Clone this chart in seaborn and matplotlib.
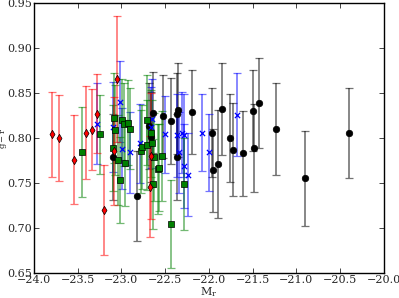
import numpy as np
import pandas as pd
import seaborn as sns
import matplotlib
matplotlib.use('Agg')
import matplotlib.pyplot as plt

# red diamonds
red_x = [-23.79, -23.71, -23.54, -23.40, -23.34, -23.28, -23.20, -23.05, -23.08, -22.66, -22.67]
red_y = [0.804, 0.800, 0.776, 0.806, 0.809, 0.827, 0.720, 0.865, 0.786, 0.780, 0.746]
red_e = [0.047, 0.048, 0.049, 0.052, 0.045, 0.044, 0.050, 0.070, 0.060, 0.070, 0.056]

# blue crosses
blue_x = [-23.28, -23.10, -23.02, -22.99, -22.90, -22.79, -22.65, -22.66, -22.50, -22.37,
          -22.31, -22.28, -22.34, -22.29, -22.24, -22.08, -22.00, -21.68]
blue_y = [0.816, 0.812, 0.840, 0.788, 0.784, 0.794, 0.821, 0.812, 0.804, 0.803,
          0.806, 0.803, 0.784, 0.769, 0.759, 0.806, 0.784, 0.826]
blue_e = [0.045, 0.050, 0.045, 0.045, 0.045, 0.044, 0.044, 0.045, 0.043, 0.046,
          0.045, 0.046, 0.045, 0.047, 0.046, 0.043, 0.043, 0.046]

# black circles
black_x = [-23.10, -22.82, -22.68, -22.64, -22.66, -22.53, -22.43, -22.37, -22.35, -22.37,
           -22.19, -21.97, -21.95, -21.90, -21.85, -21.76, -21.72, -21.61, -21.50, -21.48,
           -21.43, -21.23, -20.90, -20.40]
black_y = [0.779, 0.735, 0.813, 0.828, 0.801, 0.824, 0.819, 0.827, 0.831, 0.779,
           0.829, 0.806, 0.764, 0.771, 0.832, 0.800, 0.787, 0.783, 0.830, 0.789,
           0.839, 0.810, 0.755, 0.806]
black_e = [0.048, 0.050, 0.048, 0.045, 0.050, 0.046, 0.048, 0.045, 0.052, 0.048,
           0.047, 0.049, 0.046, 0.060, 0.051, 0.049, 0.052, 0.047, 0.045, 0.049,
           0.050, 0.051, 0.053, 0.050]

# green squares
green_x = [-23.455, -23.24, -23.09, -23.07, -23.10, -23.04, -23.02, -22.99, -22.97, -22.93,
           -22.90, -22.96, -22.78, -22.76, -22.71, -22.66, -22.71, -22.65, -22.64, -22.58,
           -22.63, -22.54, -22.57, -22.43, -22.28]
green_y = [0.784, 0.804, 0.822, 0.809, 0.789, 0.776, 0.753, 0.820, 0.815, 0.817,
           0.810, 0.772, 0.785, 0.790, 0.820, 0.805, 0.792, 0.794, 0.749, 0.766,
           0.779, 0.780, 0.767, 0.704, 0.749]
green_e = [0.050, 0.044, 0.050, 0.050, 0.048, 0.050, 0.048, 0.045, 0.046, 0.047,
           0.045, 0.048, 0.046, 0.047, 0.050, 0.048, 0.050, 0.048, 0.050, 0.050,
           0.049, 0.050, 0.048, 0.049, 0.051]

sns.set_style('ticks')
plt.rcParams['font.family'] = ['DejaVu Serif']
plt.rcParams['mathtext.fontset'] = 'dejavuserif'

fig, ax = plt.subplots(figsize=(3.99, 2.98), dpi=100)
fig.subplots_adjust(left=0.085, right=0.962, bottom=0.084, top=0.99)

groups = [
    (black_x, black_y, black_e, 'black', 'o', 'black', 22),
    (blue_x, blue_y, blue_e, 'blue', 'x', 'blue', 14),
    (green_x, green_y, green_e, 'green', 's', 'black', 20),
    (red_x, red_y, red_e, 'red', 'd', 'black', 18),
]

for gx, gy, ge, col, mk, ec, sz in groups:
    ax.errorbar(gx, gy, yerr=ge, fmt='none', ecolor=col, alpha=0.55,
                elinewidth=1.2, capsize=2.8, capthick=0.9)
    df = pd.DataFrame({'x': gx, 'y': gy})
    if mk == 'x':
        sns.scatterplot(data=df, x='x', y='y', marker=mk, color=col, s=sz,
                        linewidth=0.9, ax=ax, zorder=3)
    else:
        sns.scatterplot(data=df, x='x', y='y', marker=mk, color=col, s=sz,
                        edgecolor=ec, linewidth=0.5, ax=ax, zorder=3)

ax.set_xlim(-24, -20)
ax.set_ylim(0.65, 0.95)
ax.set_xticks(np.arange(-24, -19.9, 0.5))
ax.set_yticks(np.arange(0.65, 0.951, 0.05))
ax.set_xticklabels(['\u2212%.1f' % abs(v) for v in np.arange(-24, -19.9, 0.5)])
ax.set_yticklabels(['%.2f' % v for v in np.arange(0.65, 0.951, 0.05)])
ax.tick_params(direction='in', top=True, right=True, labelsize=8, length=3.5,
               width=0.6, pad=1.5)
for sp in ax.spines.values():
    sp.set_linewidth(1.0)
    sp.set_color('black')
ax.set_xlabel(r'$\mathrm{M_r}$', fontsize=8, labelpad=0)
ax.set_ylabel(r'$\mathrm{g-r}$', fontsize=6)
ax.yaxis.set_label_coords(-0.071, 0.5)

fig.savefig('out.png', dpi=100)
